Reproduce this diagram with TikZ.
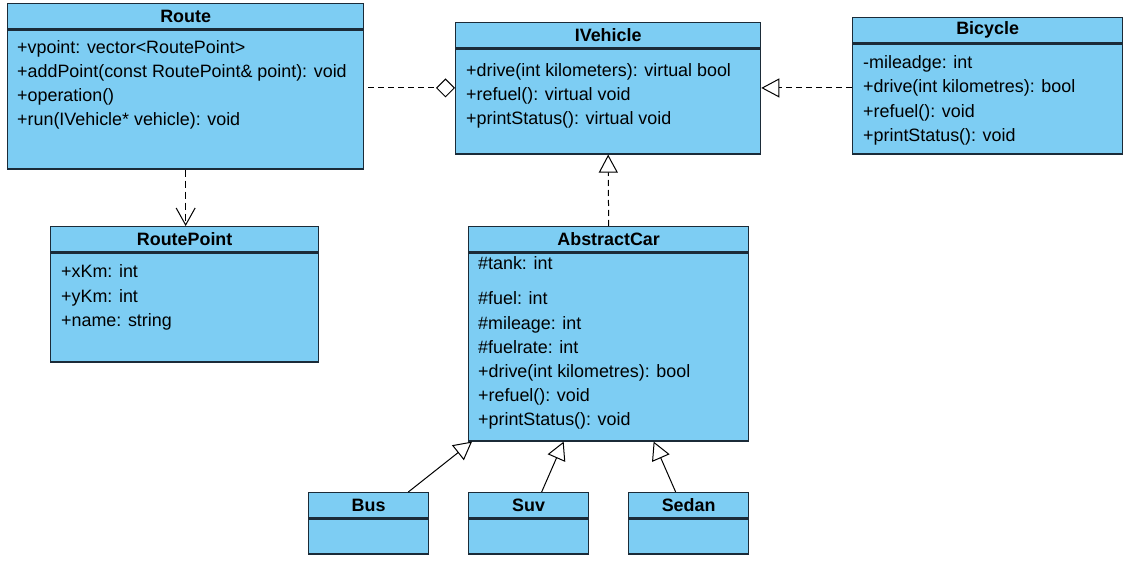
\documentclass[tikz,border=0pt]{standalone}
\usepackage{fontspec}
\setmainfont{Liberation Sans}
\usepackage{xcolor}
\usetikzlibrary{arrows.meta,calc,positioning}
\definecolor{classfill}{HTML}{7DCDF3}
\definecolor{classline}{HTML}{1B2B38}
\tikzset{
        classhead/.style = {draw=classline, fill=classfill, rectangle,
            line width=1.3pt, inner sep=0pt,
            minimum height=25pt,
            font=\fontsize{17.9}{24}\selectfont\bfseries},
        classbody/.style = {draw=classline, fill=classfill, rectangle,
            line width=1.3pt, inner sep=0pt},
        member/.style = {anchor=base west, inner sep=0pt,
            font=\fontsize{17.9}{24}\selectfont},
        aggregation/.style = {draw, line width=1pt, dash pattern=on 6pt off 4pt,
            -{Diamond[open, length=19pt, width=19pt]}},
        realize/.style = {draw, line width=1pt, dash pattern=on 6pt off 4pt,
            -{Triangle[open, length=18pt, width=19pt]}},
        inherit/.style = {draw, line width=1pt,
            -{Triangle[open, length=18pt, width=19pt]}},
        usedep/.style = {draw, line width=1pt, dash pattern=on 7pt off 4pt,
            -{Straight Barb[length=17pt, width=19pt]}},
    }

\begin{document}
\begin{tikzpicture}[x=1pt, y=-1pt]
    \useasboundingbox (0,0) rectangle (1132,585);

    % classes
    \node[classhead, minimum width=356pt, anchor=north west] (routehead) at (7,3) {Route};
    \node[classbody, minimum width=356pt, minimum height=139pt, below=0pt of routehead] (routebody) {};

    \node[classhead, minimum width=305pt, anchor=north west] (ivehiclehead) at (455,22) {IVehicle};
    \node[classbody, minimum width=305pt, minimum height=105pt, below=0pt of ivehiclehead] (ivehiclebody) {};

    \node[classhead, minimum width=270pt, anchor=north west] (bicyclehead) at (852,17) {Bicycle};
    \node[classbody, minimum width=270pt, minimum height=110pt, below=0pt of bicyclehead] (bicyclebody) {};

    \node[classhead, minimum width=268pt, anchor=north west] (routepointhead) at (50,226) {RoutePoint};
    \node[classbody, minimum width=268pt, minimum height=109pt, below=0pt of routepointhead] (routepointbody) {};

    \node[classhead, minimum width=280pt, anchor=north west] (abstractcarhead) at (468,226) {AbstractCar};
    \node[classbody, minimum width=280pt, minimum height=188pt, below=0pt of abstractcarhead] (abstractcarbody) {};

    \node[classhead, minimum width=120pt, anchor=north west] (bushead) at (308,492) {Bus};
    \node[classbody, minimum width=120pt, minimum height=35pt, below=0pt of bushead] (busbody) {};

    \node[classhead, minimum width=120pt, anchor=north west] (suvhead) at (468,492) {Suv};
    \node[classbody, minimum width=120pt, minimum height=35pt, below=0pt of suvhead] (suvbody) {};

    \node[classhead, minimum width=120pt, anchor=north west] (sedanhead) at (628,492) {Sedan};
    \node[classbody, minimum width=120pt, minimum height=35pt, below=0pt of sedanhead] (sedanbody) {};

    % members
    \node[member] (route1) at (17,54) {+vpoint: vector<RoutePoint>};
    \node[member] (route2) at (17,78) {+addPoint(const RoutePoint\& point): void};
    \node[member] (route3) at (17,102) {+operation()};
    \node[member] (route4) at (17,126) {+run(IVehicle* vehicle): void};

    \node[member] (ivehicle1) at (466,77) {+drive(int kilometers): virtual bool};
    \node[member] (ivehicle2) at (466,101) {+refuel(): virtual void};
    \node[member] (ivehicle3) at (466,125) {+printStatus(): virtual void};

    \node[member] (bicycle1) at (863,69) {-mileadge: int};
    \node[member] (bicycle2) at (863,93) {+drive(int kilometres): bool};
    \node[member] (bicycle3) at (863,118) {+refuel(): void};
    \node[member] (bicycle4) at (863,142) {+printStatus(): void};

    \node[member] (routepoint1) at (61,278) {+xKm: int};
    \node[member] (routepoint2) at (61,302) {+yKm: int};
    \node[member] (routepoint3) at (61,326) {+name: string};

    \node[member] (abstractcar1) at (478,270) {\#tank: int};
    \node[member] (abstractcar2) at (478,305) {\#fuel: int};
    \node[member] (abstractcar3) at (478,329) {\#mileage: int};
    \node[member] (abstractcar4) at (478,353) {\#fuelrate: int};
    \node[member] (abstractcar5) at (478,377) {+drive(int kilometres): bool};
    \node[member] (abstractcar6) at (478,401) {+refuel(): void};
    \node[member] (abstractcar7) at (478,425) {+printStatus(): void};

    % relations
    \draw[aggregation] ([xshift=4pt, yshift=11.5pt]routebody.east) -- ([yshift=13.5pt]ivehiclebody.west);
    \draw[realize] ([yshift=11pt]bicyclebody.west) -- ([yshift=13.5pt]ivehiclebody.east);
    \draw[usedep] (routebody.south) -- (routebody.south |- routepointhead.north);
    \draw[realize] (abstractcarhead.north) -- (ivehiclebody.south);
    \draw[inherit] ([xshift=-21pt]bushead.north east) -- ([xshift=4pt]abstractcarbody.south west);
    \draw[inherit] ([xshift=13pt]suvhead.north) -- ([xshift=-45pt]abstractcarbody.south);
    \draw[inherit] ([xshift=-13pt]sedanhead.north) -- ([xshift=45pt]abstractcarbody.south);
\end{tikzpicture}
\end{document}
